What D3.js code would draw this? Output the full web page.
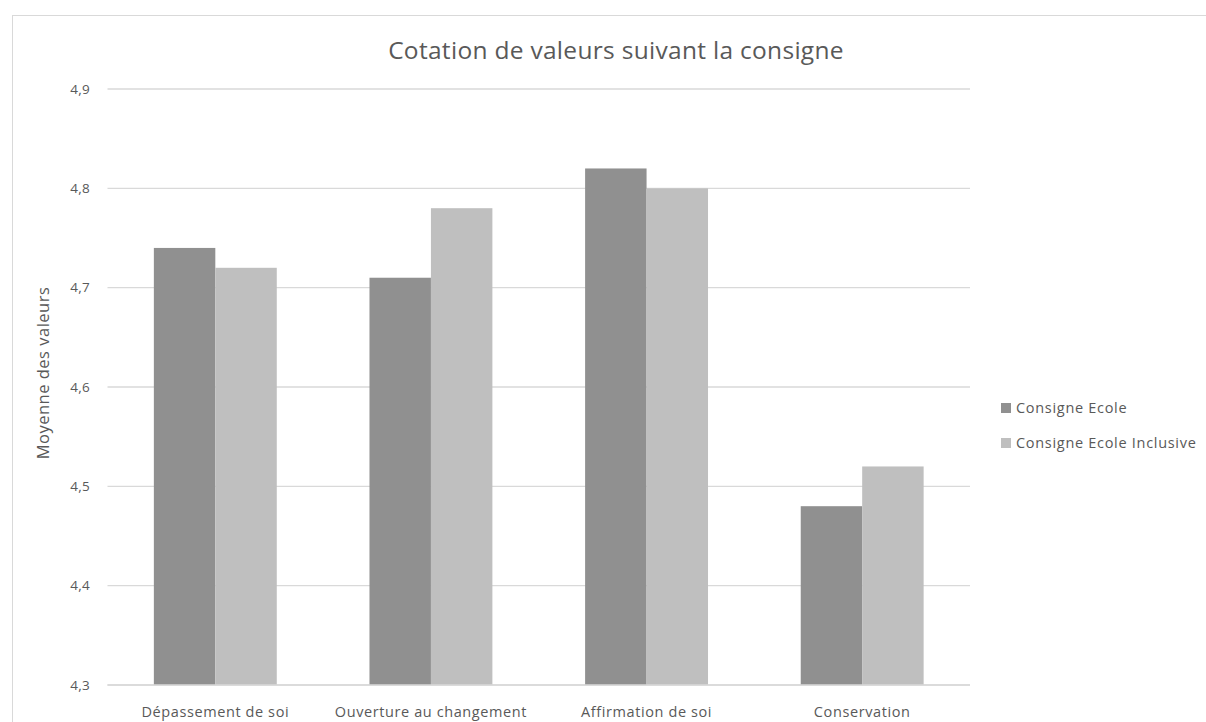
<!DOCTYPE html>
<html><head><meta charset="utf-8">
<script src="https://cdn.jsdelivr.net/npm/d3@7"></script>
<style>body{margin:0;background:#fff;}svg{display:block;font-family:"Open Sans",Lato,sans-serif;}</style>
</head><body><svg id="c" width="1206" height="722"></svg>
<script>
const categories = ["Dépassement de soi","Ouverture au changement","Affirmation de soi","Conservation"];
const seriesNames = ["Consigne Ecole","Consigne Ecole Inclusive"];
const seriesEcole = [4.74, 4.71, 4.82, 4.48];
const seriesInclusive = [4.72, 4.78, 4.80, 4.52];
const yTicks = [4.3,4.4,4.5,4.6,4.7,4.8,4.9];
const colors = ["#909090","#bfbfbf"];

const svg = d3.select("#c");
svg.append("rect").attr("x",12.5).attr("y",15.5).attr("width",1210).attr("height",720)
  .attr("fill","#fff").attr("stroke","#d9d9d9");

const m = {l:107.5, r:970, t:89, b:685};
const x = d3.scaleBand().domain(categories).range([m.l,m.r]).paddingInner(0.43).paddingOuter(0.215);
const x1 = d3.scaleBand().domain(seriesNames).range([0,x.bandwidth()]);
const y = d3.scaleLinear().domain([4.3,4.9]).range([m.b,m.t]);
const fmt = d => d.toFixed(1).replace(".",",");

svg.append("g").selectAll("line").data(yTicks).join("line")
  .attr("x1",m.l).attr("x2",m.r).attr("y1",d=>y(d)).attr("y2",d=>y(d))
  .attr("stroke","#d9d9d9").attr("stroke-width",1.3);

svg.append("g").selectAll("text").data(yTicks).join("text")
  .attr("x",90).attr("y",d=>y(d)).attr("dy","0.35em").attr("text-anchor","end")
  .attr("fill","#595959").attr("font-size",13.5).attr("letter-spacing",0.3).text(fmt);

const data = [seriesEcole, seriesInclusive];
seriesNames.forEach((s,i)=>{
  svg.append("g").selectAll("rect").data(categories).join("rect")
    .attr("x",c=>x(c)+x1(s)).attr("width",x1.bandwidth())
    .attr("y",(c,j)=>y(data[i][j])).attr("height",(c,j)=>y(4.3)-y(data[i][j]))
    .attr("fill",colors[i]);
});
svg.append("line").attr("x1",m.l).attr("x2",m.r).attr("y1",y(4.3)).attr("y2",y(4.3))
  .attr("stroke","#d9d9d9").attr("stroke-width",1.3);

svg.append("g").selectAll("text").data(categories).join("text")
  .attr("x",c=>x(c)+x.bandwidth()/2).attr("y",717).attr("text-anchor","middle")
  .attr("fill","#595959").attr("font-size",14.5).attr("letter-spacing",0.6).text(d=>d);

svg.append("text").attr("x",616).attr("y",59).attr("text-anchor","middle")
  .attr("fill","#595959").attr("font-size",24.5).attr("letter-spacing",0.3).text("Cotation de valeurs suivant la consigne");

svg.append("text").attr("transform","translate(49,373) rotate(-90)").attr("text-anchor","middle")
  .attr("fill","#595959").attr("font-size",16.5).attr("letter-spacing",0.5).text("Moyenne des valeurs");

const lg = svg.append("g").selectAll("g").data(seriesNames).join("g")
  .attr("transform",(d,i)=>`translate(1001,${403+i*35})`);
lg.append("rect").attr("width",10).attr("height",10).attr("fill",(d,i)=>colors[i]);
lg.append("text").attr("x",15).attr("y",5).attr("dy","0.35em").attr("fill","#595959")
  .attr("font-size",14.5).attr("letter-spacing",0.7).text(d=>d);
</script></body></html>
